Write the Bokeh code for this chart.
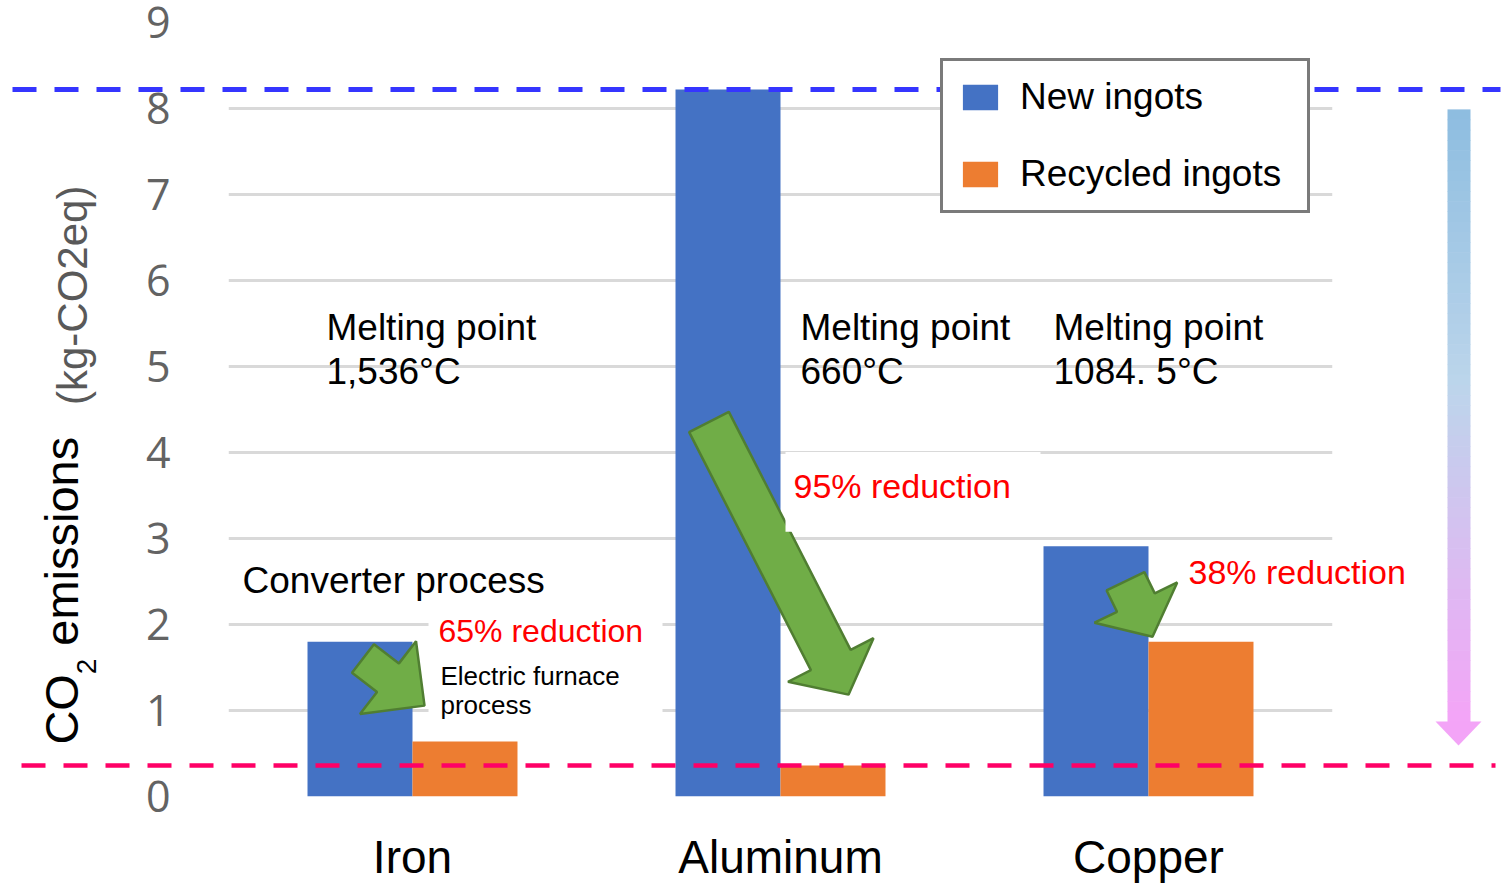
import numpy as np
from bokeh.plotting import figure
from bokeh.models import ColumnDataSource, Range1d, FixedTicker
from bokeh.transform import dodge
from bokeh.core.properties import value
from bokeh.embed import file_html
from bokeh.resources import INLINE

# ---------------- data ----------------
metals = ["Iron", "Aluminum", "Copper"]
new_ingots = [1.80, 8.22, 2.91]
recycled_ingots = [0.64, 0.36, 1.80]
series_names = ["New ingots", "Recycled ingots"]
reduction_labels = ["65% reduction", "95% reduction", "38% reduction"]
melting_points = ["1,536°C", "660°C", "1084. 5°C"]
y_ticks = [0, 1, 2, 3, 4, 5, 6, 7, 8, 9]

# ---------------- layout ----------------
W, H = 1509, 885
FL, FR, FT, FB = 228, 1332, 22, 797      # frame edges (px)
FONT = "Liberation Sans"
BLUE, ORANGE = "#4472c4", "#ed7d31"

cat_pos = [i + 0.5 for i in range(len(metals))]   # category centres on a numeric axis

p = figure(width=W, height=H, x_range=Range1d(0, len(metals)), y_range=Range1d(0, 9),
           output_backend="svg", toolbar_location=None,
           min_border_left=FL, min_border_right=W - FR,
           min_border_top=FT, min_border_bottom=H - FB)
p.outline_line_color = None
p.background_fill_color = "white"
p.border_fill_color = "white"
# pixel-space helper ranges for annotations
p.extra_x_ranges = {"px": Range1d(FL, FR)}
p.extra_y_ranges = {"py": Range1d(FB, FT)}

# ---------------- axes / grid ----------------
p.xgrid.grid_line_color = None
p.ygrid.ticker = FixedTicker(ticks=y_ticks)
p.ygrid.grid_line_color = "#d9d9d9"
p.ygrid.grid_line_width = 3

p.yaxis.ticker = FixedTicker(ticks=y_ticks)
p.yaxis.axis_line_color = None
p.yaxis.major_tick_line_color = None
p.yaxis.minor_tick_line_color = None
p.yaxis.major_tick_out = 0
p.yaxis.major_tick_in = 0
p.yaxis.minor_tick_out = 0
p.yaxis.major_label_standoff = 58
p.yaxis.major_label_text_font = "Open Sans"
p.yaxis.major_label_text_font_size = "43px"
p.yaxis.major_label_text_color = "#636363"

p.xaxis.ticker = FixedTicker(ticks=cat_pos)
p.xaxis.major_label_overrides = {pos: name for pos, name in zip(cat_pos, metals)}
p.xaxis.axis_line_color = None
p.xaxis.major_tick_line_color = None
p.xaxis.minor_tick_line_color = None
p.xaxis.major_tick_out = 0
p.xaxis.major_tick_in = 0
p.xaxis.minor_tick_out = 0
p.xaxis.major_label_standoff = 34
p.xaxis.major_label_text_font = FONT
p.xaxis.major_label_text_font_size = "46px"
p.xaxis.major_label_text_color = "black"

# ---------------- bars ----------------
src = ColumnDataSource(dict(pos=cat_pos, metal=metals, new=new_ingots, rec=recycled_ingots))
BW = 0.2853
p.vbar(x=dodge("pos", -BW / 2), top="new", width=BW, source=src,
       fill_color=BLUE, line_color=None, legend_label=series_names[0])
p.vbar(x=dodge("pos", BW / 2), top="rec", width=BW, source=src,
       fill_color=ORANGE, line_color=None, legend_label=series_names[1])

# ---------------- green block arrows (pixel space) ----------------
def block_arrow(tail, tip, a, b, h):
    T = np.array(tail, float)
    P = np.array(tip, float)
    d = (P - T) / np.linalg.norm(P - T)
    n = np.array([-d[1], d[0]])
    M = P - h * d
    pts = [T + a * n, M + a * n, M + b * n, P, M - b * n, M - a * n, T - a * n]
    return [float(q[0]) for q in pts], [float(q[1]) for q in pts]

arrow_specs = [((362.5, 658.8), (424, 706), 18, 46, 46),
               ((708.5, 422), (848, 695), 22.3, 48, 39),
               ((1125, 581.5), (1152, 637), 21, 46, 38)]
axs, ays = [], []
for spec in arrow_specs:
    xs, ys = block_arrow(*spec)
    axs.append(xs)
    ays.append(ys)
p.patches(axs, ays, x_range_name="px", y_range_name="py",
          fill_color="#70ad47", line_color="#507e32", line_width=2.5)

# white text boxes
boxes_l = [428, 785, 1178]
boxes_r = [662, 1040, 1436]
boxes_t = [608, 452, 542]
boxes_b = [730, 532, 606]
rb = p.quad(left=boxes_l, right=boxes_r, top=boxes_t, bottom=boxes_b,
            x_range_name="px", y_range_name="py", fill_color="white", line_color=None)
rb.level = "guide"

# ---------------- dashed reference lines ----------------
r1 = p.segment(x0=[12], x1=[1500], y0=[new_ingots[1]], y1=[new_ingots[1]],
               x_range_name="px", line_color="#3535ff", line_width=5, line_dash="24 18")
r1.level = "guide"
r2 = p.segment(x0=[21], x1=[1495], y0=[recycled_ingots[1]], y1=[recycled_ingots[1]],
               x_range_name="px", line_color="#ff0066", line_width=4.5, line_dash="24 18")
r2.level = "guide"

# ---------------- gradient arrow on the right ----------------
stops = [(0.0, (141, 189, 224)), (0.45, (188, 213, 235)),
         (0.7, (214, 192, 240)), (1.0, (244, 164, 247))]

def grad(t):
    for (t0, c0), (t1, c1) in zip(stops[:-1], stops[1:]):
        if t <= t1:
            f = (t - t0) / (t1 - t0)
            c = [int(round(c0[i] + f * (c1[i] - c0[i]))) for i in range(3)]
            return "#%02x%02x%02x" % tuple(c)
    return "#%02x%02x%02x" % stops[-1][1]

ga_top, ga_bot, ga_l, ga_r = 109, 722, 1447, 1470
N = 60
edges = np.linspace(ga_top, ga_bot, N + 1)
gq = p.quad(left=[ga_l] * N, right=[ga_r] * N, top=[float(v) for v in edges[:-1]],
            bottom=[float(v) + 0.6 for v in edges[1:]], x_range_name="px", y_range_name="py",
            fill_color=[grad((i + 0.5) / N) for i in range(N)], line_color=None)
gq.level = "guide"
gh = p.patch([1435, 1481, 1458], [722, 722, 746], x_range_name="px", y_range_name="py",
             fill_color="#f3a4f7", line_color=None)
gh.level = "guide"

# ---------------- texts (y = visual centre of the capitals) ----------------
def add_text(xs, ys, texts, size, color="black", angle=0.0):
    r = p.text(x=xs, y=ys, text=texts, x_range_name="px", y_range_name="py",
               text_font=value(FONT), text_font_size=f"{size}px", text_color=color,
               angle=angle, text_align="left", text_baseline="middle")
    r.level = "overlay"
    return r

# y-axis title
add_text([61], [745], ["CO"], 47, angle=np.pi / 2)
add_text([86], [674.5], ["2"], 28, angle=np.pi / 2)
add_text([61], [646], ["emissions"], 47, angle=np.pi / 2)
add_text([72], [405], ["(kg-CO2eq)"], 42, color="#595959", angle=np.pi / 2)

# melting points
mp_x = [326, 800, 1053]
add_text(mp_x, [327] * 3, ["Melting point"] * 3, 37)
add_text(mp_x, [371] * 3, melting_points, 37)

add_text([242], [581], ["Converter process"], 37)
add_text([438], [631.5], [reduction_labels[0]], 32, color="#ff0000")
add_text([793, 1188], [486, 572], reduction_labels[1:], 34, color="#ff0000")
add_text([440, 440], [676, 705], ["Electric furnace", "process"], 26)

# ---------------- legend ----------------
lg = p.legend[0]
lg.location = (712, 583)
lg.margin = 0
lg.padding = 15
lg.spacing = 35
lg.glyph_width = 44
lg.glyph_height = 32
lg.label_standoff = 18
lg.label_height = 42
lg.label_width = 272
lg.label_text_font = FONT
lg.label_text_font_size = "37px"
lg.label_text_color = "black"
lg.border_line_color = "#7a7a7a"
lg.border_line_alpha = 1.0
lg.border_line_width = 3
lg.background_fill_color = "white"
lg.background_fill_alpha = 1.0

open("out.html", "w").write(file_html(p, INLINE))
